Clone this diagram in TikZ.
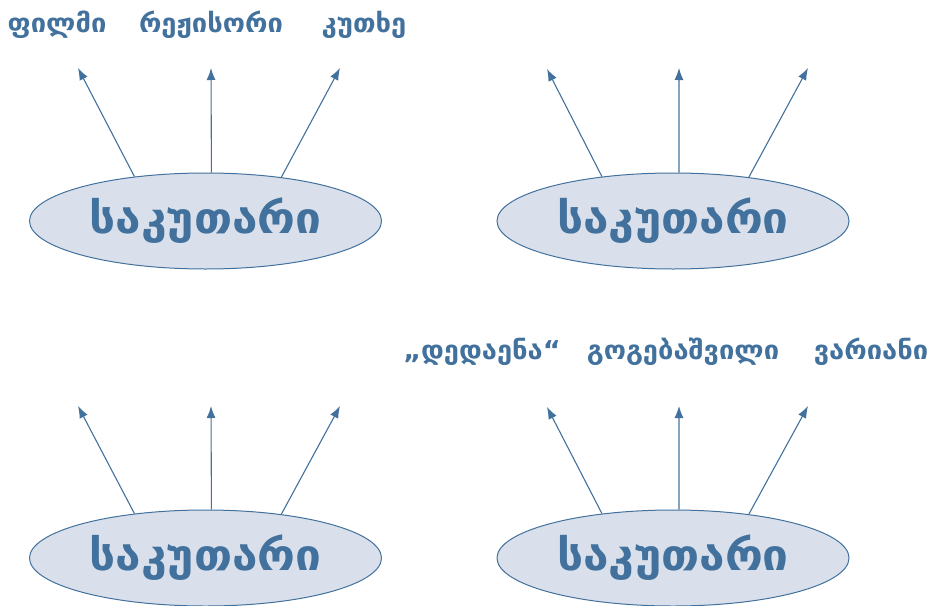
\documentclass[tikz,border=0pt]{standalone}
\usepackage{fontspec}
\setmainfont{DejaVu Sans}
\usetikzlibrary{shapes.geometric,arrows.meta}
\definecolor{bl}{HTML}{41719C}
\definecolor{fl}{HTML}{DAE0EB}
\newcommand{\ovaltxt}[1]{\scalebox{1.07}[1]{#1}}
\newcommand{\lbltxt}[1]{\scalebox{1.05}[1]{#1}}
\tikzset{
  oval/.style={ellipse,draw=bl,line width=1pt,fill=fl,minimum width=352pt,minimum height=96pt,inner sep=0pt,text=bl,font=\bfseries\fontsize{43}{48}\selectfont},
  lbl/.style={text=bl,font=\bfseries\fontsize{26}{30}\selectfont,inner sep=0pt},
  arr/.style={draw=bl,line width=1.1pt,-{Latex[length=12pt,width=9pt]}}
}
\begin{document}
\begin{tikzpicture}[x=1pt,y=-1pt]
\useasboundingbox (0,0) rectangle (931,605);
% ellipses
\node[oval] (e1) at (205.5,221) {\ovaltxt{საკუთარი}};
\node[oval] (e2) at (673,221) {\ovaltxt{საკუთარი}};
\node[oval] (e3) at (205.5,558) {\ovaltxt{საკუთარი}};
\node[oval] (e4) at (673,558) {\ovaltxt{საკუთარი}};
% tips
\coordinate (t1a) at (78,68);
\coordinate (t1b) at (211,68);
\coordinate (t1c) at (340,68);
\coordinate (t2a) at (547,69);
\coordinate (t2b) at (679,68);
\coordinate (t2c) at (808,68);
\coordinate (t3a) at (78,406);
\coordinate (t3b) at (211,406);
\coordinate (t3c) at (340,406);
\coordinate (t4a) at (547,407);
\coordinate (t4b) at (679,406);
\coordinate (t4c) at (808,406);
% arrows
\draw[arr] (e1.148) -- (t1a);
\draw[arr] (e1.83.5) -- (t1b);
\draw[arr] (e1.30) -- (t1c);
\draw[arr] (e2.148) -- (t2a);
\draw[arr] (e2.83) -- (t2b);
\draw[arr] (e2.30) -- (t2c);
\draw[arr] (e3.148) -- (t3a);
\draw[arr] (e3.83.5) -- (t3b);
\draw[arr] (e3.30) -- (t3c);
\draw[arr] (e4.148) -- (t4a);
\draw[arr] (e4.83) -- (t4b);
\draw[arr] (e4.30) -- (t4c);
% labels
\node[lbl] (l1) at (57,25) {\lbltxt{ფილმი}};
\node[lbl] (l2) at (211,25) {\lbltxt{რეჟისორი}};
\node[lbl] (l3) at (364,25) {\lbltxt{კუთხე}};
\node[lbl] (l4) at (482,352) {\lbltxt{„დედაენა“}};
\node[lbl] (l5) at (683,352) {\lbltxt{გოგებაშვილი}};
\node[lbl] (l6) at (871,352) {\lbltxt{ვარიანი}};
\end{tikzpicture}
\end{document}
